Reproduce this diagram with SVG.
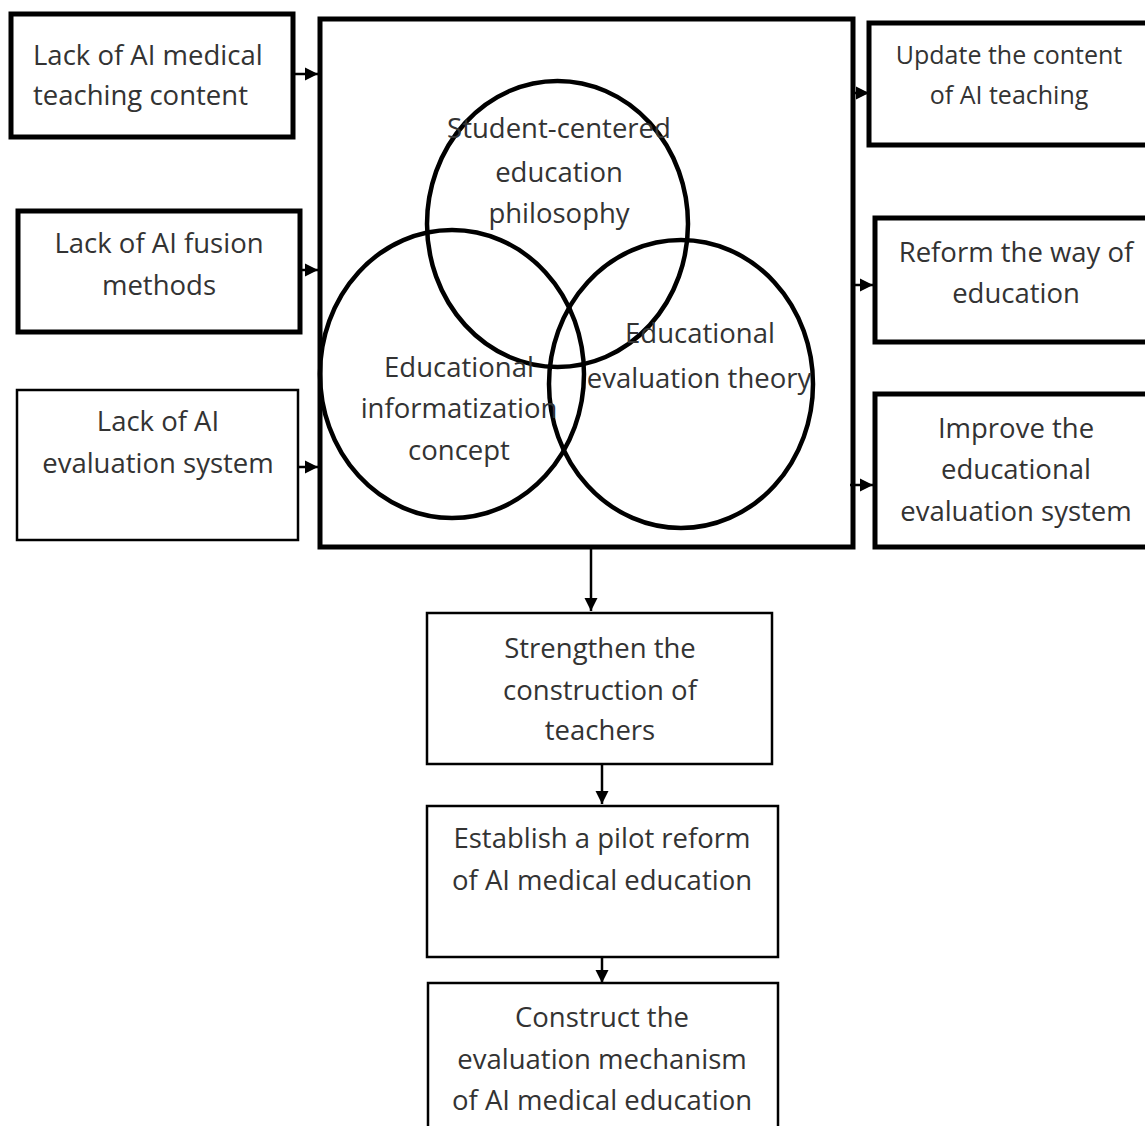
<svg xmlns="http://www.w3.org/2000/svg" width="1145" height="1126" viewBox="0 0 1145 1126">
<defs>
<marker id="ah" markerUnits="userSpaceOnUse" markerWidth="14" markerHeight="14" refX="13" refY="7" orient="auto">
<path d="M0,0.5 L13,7 L0,13.5 Z" fill="#000"/>
</marker>
<style>
.thick{fill:#fff;stroke:#000;stroke-width:5}
.thin{fill:#fff;stroke:#000;stroke-width:2.5}
.ell{fill:none;stroke:#000;stroke-width:4.5}
.t{font-family:"Open Sans","Noto Sans","DejaVu Sans",sans-serif;font-size:27.5px;fill:#333;text-anchor:middle}
.tl{text-anchor:start}
.s{font-size:25px}
.c{stroke:#000;stroke-width:2.5;fill:none;marker-end:url(#ah)}
</style>
</defs>
<rect width="1145" height="1126" fill="#fff"/>
<g id="main">
<rect class="thick" x="320" y="19" width="533" height="528"/>
</g>
<g id="venn">
<ellipse class="ell" cx="557.5" cy="224" rx="130.5" ry="143"/>
<ellipse class="ell" cx="452" cy="374" rx="132" ry="144"/>
<ellipse class="ell" cx="681" cy="384" rx="132" ry="144"/>
</g>
<g id="n-student">
<text class="t" x="559" y="138">Student-centered</text>
<text class="t" x="559" y="182">education</text>
<text class="t" x="559" y="223">philosophy</text>
</g>
<g id="n-info">
<text class="t" x="459" y="377">Educational</text>
<text class="t" x="459" y="418">informatization</text>
<text class="t" x="459" y="460">concept</text>
</g>
<g id="n-evaltheory">
<text class="t" x="700" y="343">Educational</text>
<text class="t" x="699" y="388">evaluation theory</text>
</g>
<g id="n-lack1">
<rect class="thick" x="11" y="14" width="282" height="123"/>
<text class="t tl" x="33" y="65">Lack of AI medical</text>
<text class="t tl" x="33" y="105">teaching content</text>
</g>
<g id="n-lack2">
<rect class="thick" x="18" y="211" width="282" height="121"/>
<text class="t" x="159" y="253">Lack of AI fusion</text>
<text class="t" x="159" y="295">methods</text>
</g>
<g id="n-lack3">
<rect class="thin" x="17" y="390" width="281" height="150"/>
<text class="t" x="158" y="431">Lack of AI</text>
<text class="t" x="158" y="473">evaluation system</text>
</g>
<g id="n-update">
<rect class="thick" x="869" y="23" width="290" height="122"/>
<text class="t s" x="1009" y="64">Update the content</text>
<text class="t s" x="1009" y="104">of AI teaching</text>
</g>
<g id="n-reform">
<rect class="thick" x="875" y="218" width="290" height="124"/>
<text class="t" x="1016" y="262">Reform the way of</text>
<text class="t" x="1016" y="303">education</text>
</g>
<g id="n-improve">
<rect class="thick" x="875" y="394" width="290" height="153"/>
<text class="t" x="1016" y="438">Improve the</text>
<text class="t" x="1016" y="479">educational</text>
<text class="t" x="1016" y="521">evaluation system</text>
</g>
<g id="n-strengthen">
<rect class="thin" x="427" y="613" width="345" height="151"/>
<text class="t" x="600" y="658">Strengthen the</text>
<text class="t" x="600" y="700">construction of</text>
<text class="t" x="600" y="740">teachers</text>
</g>
<g id="n-pilot">
<rect class="thin" x="427" y="806" width="351" height="151"/>
<text class="t" x="602" y="848">Establish a pilot reform</text>
<text class="t" x="602" y="890">of AI medical education</text>
</g>
<g id="n-construct">
<rect class="thin" x="428" y="983" width="350" height="160"/>
<text class="t" x="602" y="1027">Construct the</text>
<text class="t" x="602" y="1069">evaluation mechanism</text>
<text class="t" x="602" y="1110">of AI medical education</text>
</g>
<g id="connectors">
<line class="c" x1="293" y1="74" x2="318" y2="74"/>
<line class="c" x1="300" y1="270" x2="318" y2="270"/>
<line class="c" x1="298" y1="467" x2="318" y2="467"/>
<line class="c" x1="853" y1="93" x2="869" y2="93"/>
<line class="c" x1="853" y1="285" x2="873" y2="285"/>
<line class="c" x1="850" y1="485" x2="873" y2="485"/>
<line class="c" x1="591" y1="549" x2="591" y2="611"/>
<line class="c" x1="602" y1="765" x2="602" y2="804"/>
<line class="c" x1="602" y1="958" x2="602" y2="983"/>
</g>
</svg>
